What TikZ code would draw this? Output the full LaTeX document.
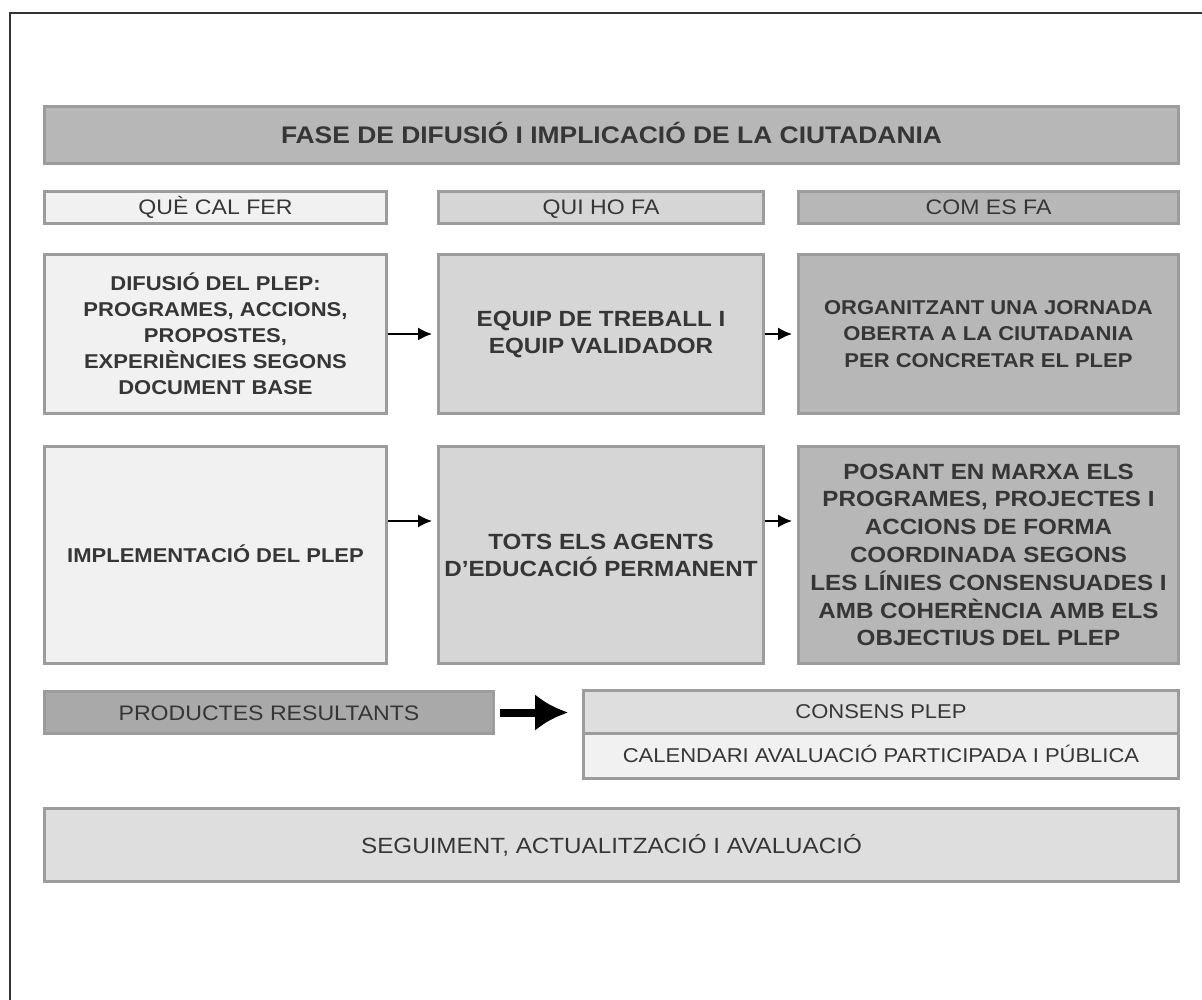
\documentclass[tikz,border=0pt]{standalone}
\usepackage{fontspec}
\setmainfont{Liberation Sans}[FakeStretch=1.1]
\usetikzlibrary{arrows.meta}
\definecolor{frame}{HTML}{333333}
\definecolor{ink}{HTML}{363636}
\definecolor{edge}{HTML}{9C9C9C}
\definecolor{pale}{HTML}{F1F1F1}
\definecolor{light}{HTML}{D6D6D6}
\definecolor{mid}{HTML}{B7B7B7}
\definecolor{dark}{HTML}{A9A9A9}

\begin{document}
\begin{tikzpicture}[x=1pt, y=-1pt,
  every node/.style = {shape=rectangle, draw=edge, line width=3pt,
    align=center, inner sep=0pt, text=ink},
  oneline/.style = {text height=#1, text depth=0pt},
  head/.style = {minimum height=32pt, oneline=15pt,
    font=\fontsize{21}{24}\selectfont},
  arr/.style = {-{Latex[length=14pt,width=13pt]}, line width=1.6pt,
    shorten >=5pt}]
  \useasboundingbox (0,0) rectangle (1202,1000);
  \draw[frame, line width=1.5pt] (10,1000) -- (10,13) -- (1202,13);

  \node[fill=mid, minimum width=1134pt, minimum height=57pt, oneline=17pt,
    font=\bfseries\fontsize{24}{28}\selectfont] (fase) at (611.5,135)
    {FASE DE DIFUSIÓ I IMPLICACIÓ DE LA CIUTADANIA};

  % capcaleres
  \node[head, fill=pale, minimum width=342pt] (que) at (215.5,207.5) {QUÈ CAL FER};
  \node[head, fill=light, minimum width=325pt] (qui) at (601,207.5) {QUI HO FA};
  \node[head, fill=mid, minimum width=380pt] (com) at (988.5,207.5) {COM ES FA};

  % fila 1
  \node[fill=pale, minimum width=342pt, minimum height=159pt,
    font=\bfseries\fontsize{20}{26}\selectfont] (difusio) at (215.5,334)
    {DIFUSIÓ DEL PLEP:\\PROGRAMES, ACCIONS,\\PROPOSTES,\\EXPERIÈNCIES SEGONS\\DOCUMENT BASE};
  \node[fill=light, minimum width=325pt, minimum height=159pt,
    font=\bfseries\fontsize{22}{27}\selectfont] (equip) at (601,334)
    {EQUIP DE TREBALL I\\EQUIP VALIDADOR};
  \node[fill=mid, minimum width=380pt, minimum height=159pt,
    font=\bfseries\fontsize{20}{26.7}\selectfont] (jornada) at (988.5,334)
    {ORGANITZANT UNA JORNADA\\OBERTA A LA CIUTADANIA\\PER CONCRETAR EL PLEP};

  % fila 2
  \node[fill=pale, minimum width=342pt, minimum height=217pt, oneline=14pt,
    font=\bfseries\fontsize{20}{26}\selectfont] (implement) at (215.5,555)
    {IMPLEMENTACIÓ DEL PLEP};
  \node[fill=light, minimum width=325pt, minimum height=217pt,
    font=\bfseries\fontsize{22}{27}\selectfont] (agents) at (601,555)
    {TOTS ELS AGENTS\\D'EDUCACIÓ PERMANENT};
  \node[fill=mid, minimum width=380pt, minimum height=217pt,
    font=\bfseries\fontsize{22}{27.8}\selectfont] (marxa) at (988.5,555)
    {POSANT EN MARXA ELS\\PROGRAMES, PROJECTES I\\ACCIONS DE FORMA\\COORDINADA SEGONS\\LES LÍNIES CONSENSUADES I\\AMB COHERÈNCIA AMB ELS\\OBJECTIUS DEL PLEP};

  \draw[arr] (difusio.east) -- (equip.west);
  \draw[arr] (equip.east) -- (jornada.west);
  \draw[arr] ([yshift=34pt]implement.east) -- ([yshift=34pt]agents.west);
  \draw[arr] ([yshift=34pt]agents.east) -- ([yshift=34pt]marxa.west);

  % productes
  \node[fill=dark, minimum width=449pt, minimum height=42pt, oneline=15pt,
    font=\fontsize{21}{24}\selectfont] (productes) at (269,712.5)
    {PRODUCTES RESULTANTS};
  \node[fill=light!70!pale, minimum width=595pt, minimum height=43pt,
    oneline=14pt, font=\fontsize{20}{24}\selectfont] (consens) at (881,711.5)
    {CONSENS PLEP};
  \node[fill=pale, minimum width=595pt, minimum height=45pt, oneline=14pt,
    font=\fontsize{20}{24}\selectfont] (calendari) at (881,755.5)
    {CALENDARI AVALUACIÓ PARTICIPADA I PÚBLICA};
  \draw[-{Latex[length=33pt,width=37pt]}, line width=8pt, black,
    shorten <=5pt, shorten >=14pt] (productes.east) -- (productes.east -| consens.west);

  \node[fill=light!70!pale, minimum width=1134pt, minimum height=73pt,
    oneline=16pt, font=\fontsize{22}{26}\selectfont] (seguiment) at (611.5,845)
    {SEGUIMENT, ACTUALITZACIÓ I AVALUACIÓ};
\end{tikzpicture}
\end{document}
